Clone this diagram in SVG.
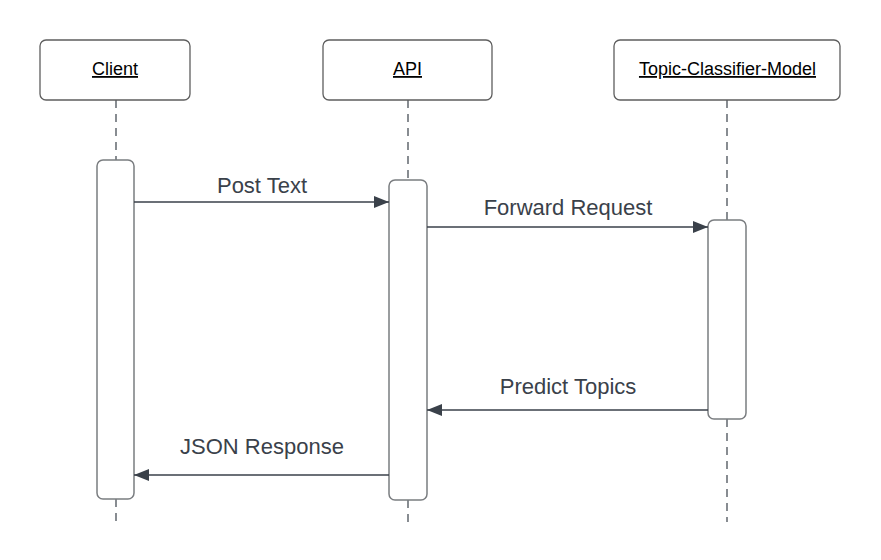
<svg xmlns="http://www.w3.org/2000/svg" width="881" height="560" viewBox="0 0 881 560">
<style>
.head{fill:#ffffff;stroke:#5e5e5e;stroke-width:1.3}
.act{fill:#ffffff;stroke:#7a7d80;stroke-width:1.5}
.life{stroke:#3a414a;stroke-width:1.2;stroke-dasharray:8 6;fill:none}
.name{font-family:"Liberation Sans",Arial,sans-serif;font-size:18px;fill:#000000;text-anchor:middle;text-decoration:underline}
.msg{stroke:#3a414a;stroke-width:1.3;fill:none}
.lbl{font-family:"Liberation Sans",Arial,sans-serif;font-size:22px;fill:#3a414a;text-anchor:middle}
</style>
<defs>
<marker id="ah" markerWidth="16" markerHeight="12" refX="15" refY="6" orient="auto" markerUnits="userSpaceOnUse">
<path d="M0,0 L15,6 L0,12 Z" fill="#3a414a"/>
</marker>
</defs>
<rect width="881" height="560" fill="#ffffff"/>
<g id="lifelines">
<line class="life" x1="116" y1="100" x2="116" y2="160"/>
<line class="life" x1="116" y1="499" x2="116" y2="522"/>
<line class="life" x1="408" y1="100" x2="408" y2="180"/>
<line class="life" x1="408" y1="500" x2="408" y2="522"/>
<line class="life" x1="727" y1="100" x2="727" y2="220"/>
<line class="life" x1="727" y1="419" x2="727" y2="522"/>
</g>
<g id="client">
<rect class="head" x="40" y="40" width="150" height="60" rx="6"/>
<text class="name" x="115" y="75">Client</text>
<rect class="act" x="97" y="160" width="37" height="339" rx="6"/>
</g>
<g id="api">
<rect class="head" x="323" y="40" width="169" height="60" rx="6"/>
<text class="name" x="407.5" y="75">API</text>
<rect class="act" x="389" y="180" width="38" height="320" rx="6"/>
</g>
<g id="model">
<rect class="head" x="614" y="40" width="226" height="60" rx="6"/>
<text class="name" x="727.5" y="75">Topic-Classifier-Model</text>
<rect class="act" x="708" y="220" width="38" height="199" rx="6"/>
</g>
<g id="connectors">
<line class="msg" x1="134" y1="202" x2="389" y2="202" marker-end="url(#ah)"/>
<text class="lbl" x="262" y="193">Post Text</text>
<line class="msg" x1="427" y1="227" x2="708" y2="227" marker-end="url(#ah)"/>
<text class="lbl" x="568" y="215">Forward Request</text>
<line class="msg" x1="708" y1="410" x2="427" y2="410" marker-end="url(#ah)"/>
<text class="lbl" x="568" y="394">Predict Topics</text>
<line class="msg" x1="389" y1="475" x2="134" y2="475" marker-end="url(#ah)"/>
<text class="lbl" x="262" y="454">JSON Response</text>
</g>
</svg>
